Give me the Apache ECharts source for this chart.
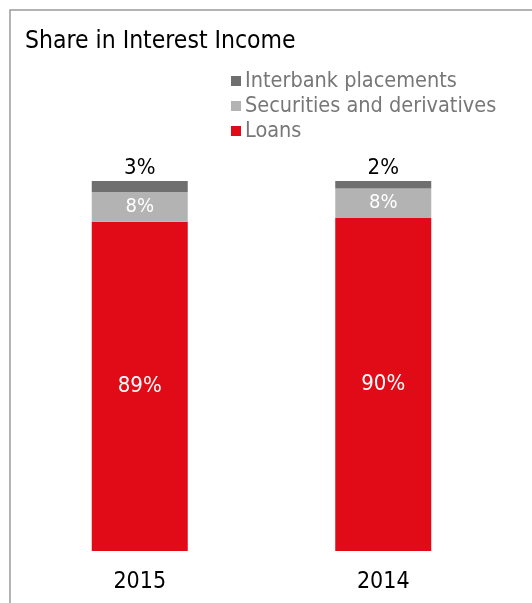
<!DOCTYPE html>
<html>
<head>
<meta charset="utf-8">
<style>
  html, body { margin: 0; padding: 0; background: #fff; }
  #chart { width: 532px; height: 603px; }
</style>
<script src="https://cdn.jsdelivr.net/npm/echarts@6/dist/echarts.min.js"></script>
</head>
<body>
<div id="chart"></div>
<script>
// Share of interest income by source, percent
const years = ['2015', '2014'];
const loans = [89, 90];
const securities = [8, 8];
const interbank = [3, 2];

const FONT = '"DejaVu Sans Condensed", "Liberation Sans Narrow", "Arial Narrow", sans-serif';
const RED = '#e00b16';
const LIGHT = '#b3b3b3';
const DARK = '#6f6f6f';

const chart = echarts.init(document.getElementById('chart'), null, { renderer: 'canvas' });

const pct = p => p.value + '%';

chart.setOption({
  animation: false,
  textStyle: { fontFamily: FONT },
  title: {
    text: 'Share in Interest Income',
    left: 20,
    top: 24,
    textStyle: { fontFamily: FONT, fontSize: 24.5, fontWeight: 'normal', color: '#000' }
  },
  legend: {
    orient: 'vertical',
    left: 226,
    top: 65,
    icon: 'rect',
    itemWidth: 10,
    itemHeight: 10,
    itemGap: 3,
    data: ['Interbank placements', 'Securities and derivatives', 'Loans'],
    textStyle: { fontFamily: FONT, fontSize: 21.5, lineHeight: 20, color: '#777', padding: [0, 0, 0, -1] }
  },
  grid: { left: 18, right: 27, top: 181, bottom: 52 },
  xAxis: {
    type: 'category',
    data: years,
    axisLine: { show: false },
    axisTick: { show: false },
    axisLabel: { fontFamily: FONT, fontSize: 23, color: '#000', margin: 20 }
  },
  yAxis: {
    type: 'value',
    min: 0,
    max: 100,
    show: false,
    splitLine: { show: false }
  },
  series: [
    {
      name: 'Loans',
      type: 'bar',
      stack: 'share',
      barWidth: 96,
      data: loans,
      itemStyle: { color: RED },
      label: { show: true, position: 'inside', formatter: pct, color: '#fff', fontFamily: FONT, fontSize: 22 }
    },
    {
      name: 'Securities and derivatives',
      type: 'bar',
      stack: 'share',
      data: securities,
      itemStyle: { color: LIGHT },
      label: { show: true, position: 'inside', formatter: pct, color: '#fff', fontFamily: FONT, fontSize: 20 }
    },
    {
      name: 'Interbank placements',
      type: 'bar',
      stack: 'share',
      data: interbank,
      itemStyle: { color: DARK },
      label: { show: true, position: 'top', distance: 2, formatter: pct, color: '#000', fontFamily: FONT, fontSize: 22 }
    }
  ],
  graphic: [
    {
      type: 'polyline',
      silent: true,
      shape: { points: [[10, 603], [10, 10], [532, 10]] },
      style: { stroke: '#9a9a9a', lineWidth: 1.5, fill: null }
    }
  ]
});
</script>
</body>
</html>
